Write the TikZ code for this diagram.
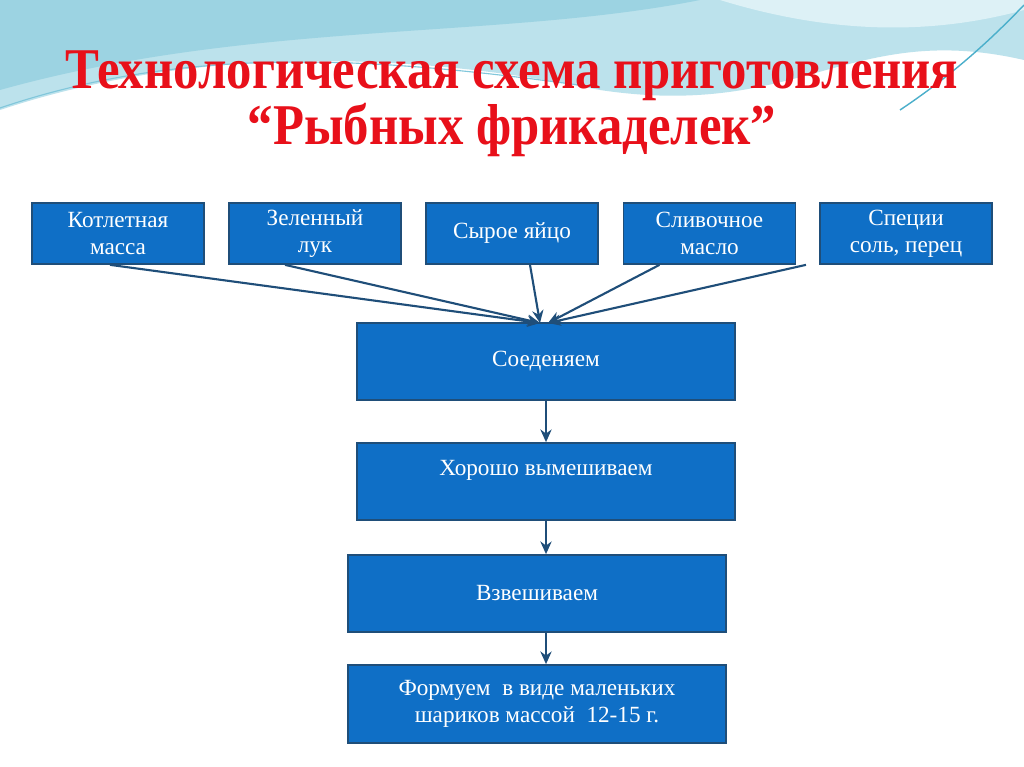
\documentclass[tikz,border=0pt]{standalone}
\usepackage{fontspec}
\setmainfont{Liberation Serif}
\usetikzlibrary{positioning,arrows.meta}
\definecolor{boxblue}{HTML}{0F6FC6}
\definecolor{boxline}{HTML}{1F4E79}
\definecolor{titlered}{HTML}{E8101A}
\definecolor{wave}{HTML}{8FCFE0}
\definecolor{wavedark}{HTML}{4BAFCB}
\tikzstyle{sqr} = [rectangle, draw=boxline, line width=1.2pt, fill=boxblue, text=white, align=center, font=\fontsize{16.5}{19}\selectfont, inner sep=0pt]
\tikzstyle{arrow} = [draw=boxline, line width=1.5pt, -{Stealth[length=9pt,width=8pt]}]
\begin{document}
\begin{tikzpicture}[x=0.025cm, y=-0.025cm]
\useasboundingbox (0,0) rectangle (1024,767);
\fill[white] (0,0) rectangle (1024,767);

%% Waves
\fill[wave!60] (0,0) -- (1024,0) -- (1024,60) .. controls (850,20) and (800,120) .. (600,90) .. controls (350,40) and (150,60) .. (0,110) -- cycle;
\fill[wavedark!55] (0,0) -- (700,0) .. controls (500,40) and (250,20) .. (0,90) -- cycle;
\fill[wave!30] (720,0) .. controls (850,40) and (950,30) .. (1024,10) -- (1024,0) -- cycle;
\draw[wavedark!70, line width=0.8pt] (0,108) .. controls (200,40) and (400,60) .. (600,88);
\draw[wavedark, line width=1pt] (900,110) .. controls (960,70) and (1000,30) .. (1024,5);

%% Title
\node (title) [text=titlered, font=\bfseries\fontsize{41}{40}\selectfont, align=center, xscale=0.88] at (512,104) {Технологическая схема приготовления\\“Рыбных фрикаделек”};

%% Ingredients
\node (kot) [sqr, minimum width=4.3cm, minimum height=1.525cm] at (118,233.5) {Котлетная\\масса};
\node (zel) [sqr, minimum width=4.3cm, minimum height=1.525cm] at (315,233.5) {Зеленный\\лук};
\node (yaj) [sqr, minimum width=4.3cm, minimum height=1.525cm] at (512,233.5) {Сырое яйцо};
\node (sli) [sqr, minimum width=4.3cm, minimum height=1.525cm] at (709.5,233.5) {Сливочное\\масло};
\node (spe) [sqr, minimum width=4.3cm, minimum height=1.525cm] at (906,233.5) {Специи\\соль, перец};

%% Steps
\node (soe) [sqr, minimum width=9.45cm, minimum height=1.925cm] at (546,361.5) {Соеденяем};
\node (hor) [sqr, minimum width=9.45cm, minimum height=1.925cm, text depth=0.7cm] at (546,481.5) {Хорошо вымешиваем};
\node (vzv) [sqr, minimum width=9.45cm, minimum height=1.925cm] at (537,593.5) {Взвешиваем};
\node (for) [sqr, minimum width=9.45cm, minimum height=1.95cm] at (537,704) {Формуем \ в виде маленьких\\шариков массой \ 12-15 г.};

%% Arrows
\coordinate (in1) at (540,323);
\coordinate (in2) at (548,323);
\draw [arrow] (kot.south) ++(-8,0) -- (in1);
\draw [arrow] (zel.south) ++(-30,0) -- (in1);
\draw [arrow] (yaj.south) ++(18,0) -- (in1);
\draw [arrow] (sli.south) ++(-50,0) -- (in2);
\draw [arrow] (spe.south) ++(-100,0) -- (in2);

\draw [arrow] (soe.south) -- (soe.south |- hor.north);
\draw [arrow] (hor.south) -- (hor.south |- vzv.north);
\draw [arrow] (hor.south |- vzv.south) -- (hor.south |- for.north);
\end{tikzpicture}
\end{document}
